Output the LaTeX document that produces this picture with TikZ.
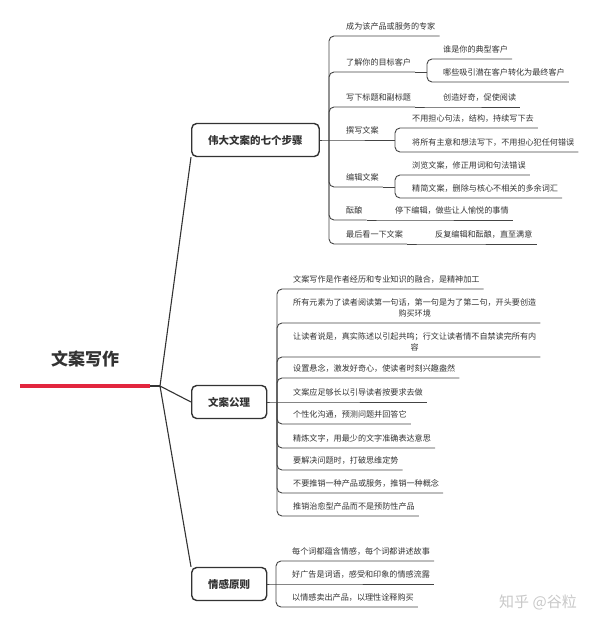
\documentclass[tikz,border=0pt]{standalone}
\usepackage{fontspec}
\setmainfont{Noto Sans CJK SC}
\usepackage{xcolor}
\usepackage{tikz}
\definecolor{MapInk}{HTML}{333333}
\definecolor{MapLine}{HTML}{444444}
\definecolor{MapRed}{HTML}{E2263E}
\definecolor{MapMark}{HTML}{C8C8C8}

\begin{document}
\begin{tikzpicture}[x=1pt, y=-1pt,
    every node/.style={text=MapInk},
    topic/.style={draw=MapInk, line width=1.4pt, rounded corners=5pt, fill=white,
                  anchor=west, minimum height=33pt, inner xsep=16.5pt,
                  font=\fontsize{10.5}{12}\selectfont\bfseries},
    leaf/.style={anchor=south west, inner xsep=4pt, inner ysep=4.5pt,
                 text height=6.5pt, text depth=1.5pt, align=center,
                 font=\fontsize{8.1}{11}\selectfont},
    trunk/.style={draw=MapInk, line width=1.1pt},
    twig/.style={draw=MapLine, line width=0.9pt, rounded corners=5pt}]
  \useasboundingbox (0,0) rectangle (600,627);

  \node[anchor=south, minimum width=130pt, inner ysep=18pt, text height=13pt, text depth=2pt,
        font=\fontsize{17}{20}\selectfont\bfseries] (root) at (85,386) {文案写作};
  \draw[MapRed, line width=4.5pt] (root.south west) -- (root.south east);
  \coordinate (hub) at (160,386);
  \draw[trunk] (root.south east) -- (hub);

  \node[topic] (steps) at (191,140) {伟大文案的七个步骤};
  \node[topic] (axioms) at (191,402) {文案公理};
  \node[topic] (feel) at (191,584) {情感原则};
  \draw[trunk] (hub) -- (steps.south west);
  \draw[trunk] (hub) -- (axioms.west);
  \draw[trunk] (hub) -- (feel.north west);

  % seven steps
  \node[leaf] (s1) at (342,36) {成为该产品或服务的专家};
  \node[leaf] (s2) at (342,72) {了解你的目标客户};
  \node[leaf] (s2a) at (439,59) {谁是你的典型客户};
  \node[leaf] (s2b) at (439,82) {哪些吸引潜在客户转化为最终客户};
  \node[leaf] (s3) at (342,107) {写下标题和副标题};
  \node[leaf] (s3a) at (439,107) {创造好奇，促使阅读};
  \node[leaf] (s4) at (342,140) {撰写文案};
  \node[leaf] (s4a) at (408,128) {不用担心句法，结构，持续写下去};
  \node[leaf] (s4b) at (408,152) {将所有主意和想法写下，不用担心犯任何错误};
  \node[leaf] (s5) at (342,187) {编辑文案};
  \node[leaf] (s5a) at (408,175) {浏览文案，修正用词和句法错误};
  \node[leaf] (s5b) at (408,198) {精简文案，删除与核心不相关的多余词汇};
  \node[leaf] (s6) at (342,220) {酝酿};
  \node[leaf] (s6a) at (391,220) {停下编辑，做些让人愉悦的事情};
  \node[leaf] (s7) at (342,244) {最后看一下文案};
  \node[leaf] (s7a) at (431,244) {反复编辑和酝酿，直至满意};

  \coordinate (stepsfork) at (329,140);
  \draw[twig] (steps.east) -- (stepsfork) -- (s4.south west) -- (s4.south east);
  \foreach \n in {s1,s2,s3,s5,s6,s7}
    \draw[twig] (stepsfork) |- (\n.south west) -- (\n.south east);
  \coordinate (s2fork) at (427,72);
  \coordinate (s4fork) at (395,140);
  \coordinate (s5fork) at (395,187);
  \draw[twig] (s2.south east) -- (s2fork);
  \draw[twig] (s4.south east) -- (s4fork);
  \draw[twig] (s5.south east) -- (s5fork);
  \foreach \p/\c in {s2fork/s2a,s2fork/s2b,s4fork/s4a,s4fork/s4b,s5fork/s5a,s5fork/s5b}
    \draw[twig] (\p) |- (\c.south west) -- (\c.south east);
  \foreach \p/\c in {s3/s3a,s6/s6a,s7/s7a}
    \draw[twig] (\p.south east) -- (\c.south west) -- (\c.south east);

  % axioms
  \node[leaf] (r1) at (289,289) {文案写作是作者经历和专业知识的融合，是精神加工};
  \node[leaf] (r2) at (289,323) {所有元素为了读者阅读第一句话，第一句是为了第二句，开头要创造\\购买环境};
  \node[leaf] (r3) at (289,357) {让读者说是，真实陈述以引起共鸣；行文让读者情不自禁读完所有内\\容};
  \node[leaf] (r4) at (289,378) {设置悬念，激发好奇心，使读者时刻兴趣盎然};
  \node[leaf] (r5) at (289,402) {文案应足够长以引导读者按要求去做};
  \node[leaf] (r6) at (289,424) {个性化沟通，预测问题并回答它};
  \node[leaf] (r7) at (289,448) {精炼文字，用最少的文字准确表达意思};
  \node[leaf] (r8) at (289,470) {要解决问题时，打破思维定势};
  \node[leaf] (r9) at (289,493) {不要推销一种产品或服务，推销一种概念};
  \node[leaf] (r10) at (289,516) {推销治愈型产品而不是预防性产品};

  \coordinate (axiomsfork) at (277,402);
  \draw[twig] (axioms.east) -- (axiomsfork) -- (r5.south west) -- (r5.south east);
  \foreach \n in {r1,r2,r3,r4,r6,r7,r8,r9,r10}
    \draw[twig] (axiomsfork) |- (\n.south west) -- (\n.south east);

  % emotion
  \node[leaf] (e1) at (288,561) {每个词都蕴含情感，每个词都讲述故事};
  \node[leaf] (e2) at (288,584) {好广告是词语，感受和印象的情感流露};
  \node[leaf] (e3) at (288,607) {以情感卖出产品，以理性诠释购买};

  \coordinate (feelfork) at (276,584);
  \draw[twig] (feel.east) -- (feelfork) -- (e2.south west) -- (e2.south east);
  \foreach \n in {e1,e3}
    \draw[twig] (feelfork) |- (\n.south west) -- (\n.south east);

  \node[text=MapMark, font=\fontsize{15}{18}\selectfont] (mark) at (538,602) {知乎 @谷粒};
\end{tikzpicture}
\end{document}
